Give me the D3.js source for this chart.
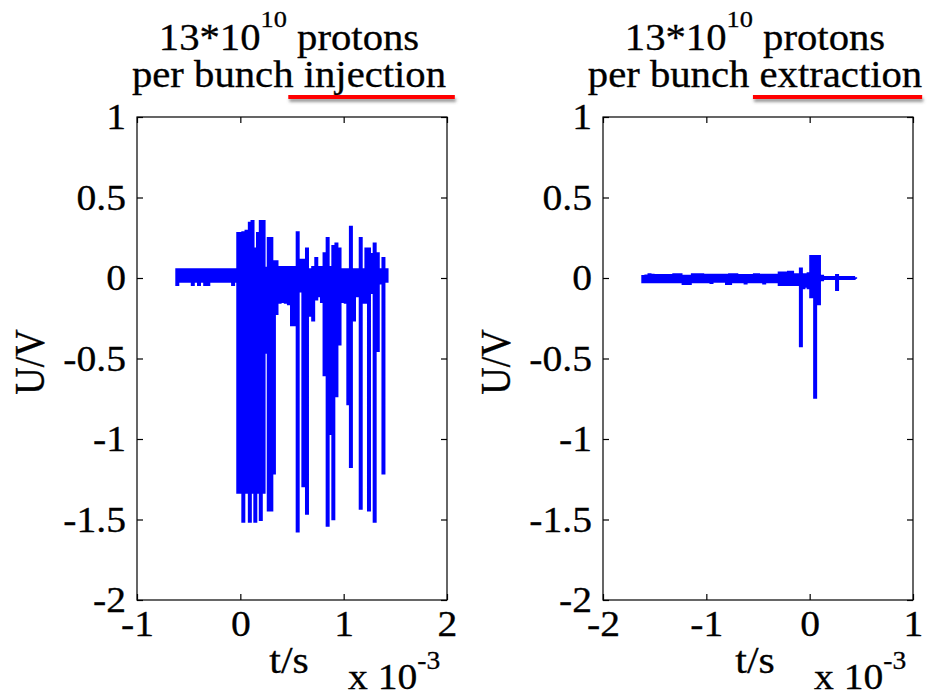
<!DOCTYPE html>
<html>
<head>
<meta charset="utf-8">
<script src="https://cdn.jsdelivr.net/npm/d3@7"></script>
<style>
  body { margin: 0; background: #fff; }
  svg text { font-family: "Liberation Serif", "Times New Roman", serif; fill: #000; white-space: pre; }
</style>
</head>
<body>
<svg id="chart"></svg>
<script>
// time in ms, voltage in V; each time bin holds the max / min of the trace

var injT = [-0.61, -0.58, -0.55, -0.52, -0.49, -0.46, -0.43, -0.40, -0.37, -0.34,
            -0.31, -0.28, -0.25, -0.22, -0.19, -0.16, -0.13, -0.10, -0.07, -0.04,
            -0.02, 0.00, 0.029, 0.06, 0.092, 0.118, 0.145, 0.171, 0.198, 0.225,
            0.25, 0.275, 0.30, 0.325, 0.35, 0.38, 0.41, 0.44, 0.47, 0.50,
            0.53, 0.555, 0.585, 0.61, 0.645, 0.675, 0.705, 0.735, 0.765, 0.79,
            0.815, 0.845, 0.87, 0.90, 0.93, 0.96, 0.99, 1.02, 1.045, 1.07,
            1.10, 1.13, 1.165, 1.195, 1.22, 1.245, 1.27, 1.30, 1.33, 1.355,
            1.385, 1.415];
var injHi = [0.06, 0.06, 0.06, 0.06, 0.06, 0.06, 0.06, 0.06, 0.06, 0.06,
             0.06, 0.06, 0.06, 0.06, 0.06, 0.06, 0.06, 0.06, 0.06, 0.06,
             0.285, 0.285, 0.29, 0.30, 0.35, 0.36, 0.19, 0.285, 0.36, 0.36,
             0.07, 0.255, 0.255, 0.11, 0.11, 0.075, 0.075, 0.075, 0.075, 0.075,
             0.075, 0.29, 0.12, 0.12, 0.19, 0.06, 0.075, 0.13, 0.075, 0.075,
             0.16, 0.255, 0.075, 0.205, 0.22, 0.19, 0.06, 0.06, 0.06, 0.325,
             0.06, 0.06, 0.255, 0.06, 0.19, 0.19, 0.155, 0.22, 0.16, 0.06,
             0.13, 0.06];
var injLo = [-0.05, -0.03, -0.03, -0.03, -0.03, -0.05, -0.03, -0.05, -0.03, -0.05,
             -0.05, -0.03, -0.03, -0.03, -0.03, -0.03, -0.03, -0.03, -0.05, -0.03,
             -1.34, -1.34, -1.52, -1.34, -1.52, -1.34, -1.52, -1.34, -1.51, -1.34,
             -0.47, -1.45, -1.45, -1.22, -0.23, -0.16, -0.155, -0.16, -0.17, -0.30,
             -0.30, -1.58, -0.09, -1.30, -1.47, -0.24, -0.27, -0.14, -0.12, -0.155,
             -0.61, -1.545, -0.975, -1.505, -0.74, -0.42, -0.155, -0.16, -0.79, -1.18,
             -0.27, -0.12, -1.44, -0.16, -0.16, -1.45, -0.10, -1.52, -0.46, -0.04,
             -1.22, -0.03];

var extT = [-1.61, -1.58, -1.55, -1.52, -1.49, -1.46, -1.43, -1.40, -1.37, -1.34,
            -1.31, -1.28, -1.25, -1.22, -1.19, -1.16, -1.13, -1.10, -1.07, -1.04,
            -1.01, -0.98, -0.95, -0.92, -0.89, -0.86, -0.83, -0.80, -0.77, -0.74,
            -0.71, -0.68, -0.65, -0.62, -0.59, -0.56, -0.53, -0.50, -0.47, -0.44,
            -0.41, -0.38, -0.35, -0.32, -0.29, -0.26, -0.23, -0.20, -0.17, -0.14,
            -0.11, -0.085, -0.06, -0.035, -0.01, 0.015, 0.035, 0.053, 0.075, 0.09,
            0.12, 0.15, 0.18, 0.21, 0.235, 0.265, 0.29, 0.33, 0.37, 0.41,
            0.44];
var extHi = [0.019, 0.022, 0.03, 0.027, 0.025, 0.025, 0.025, 0.025, 0.025, 0.025,
             0.03, 0.03, 0.03, 0.02, 0.02, 0.02, 0.03, 0.03, 0.03, 0.03,
             0.027, 0.027, 0.027, 0.027, 0.027, 0.027, 0.027, 0.027, 0.03, 0.03,
             0.03, 0.025, 0.025, 0.025, 0.025, 0.025, 0.03, 0.03, 0.027, 0.027,
             0.027, 0.027, 0.027, 0.027, 0.04, 0.04, 0.04, 0.045, 0.045, 0.03,
             0.03, 0.065, 0.03, 0.03, 0.035, 0.143, 0.143, 0.143, 0.143, 0.143,
             0.02, 0.004, 0.004, 0.004, 0.006, 0.025, 0.004, 0.004, 0.004, 0.004,
             0.004];
var extLo = [-0.033, -0.033, -0.033, -0.033, -0.033, -0.033, -0.033, -0.033, -0.033, -0.033,
             -0.033, -0.033, -0.033, -0.043, -0.043, -0.043, -0.033, -0.033, -0.033, -0.033,
             -0.033, -0.033, -0.038, -0.03, -0.03, -0.03, -0.03, -0.043, -0.043, -0.033,
             -0.033, -0.033, -0.033, -0.04, -0.033, -0.033, -0.033, -0.033, -0.033, -0.04,
             -0.033, -0.033, -0.033, -0.033, -0.05, -0.05, -0.05, -0.05, -0.05, -0.05,
             -0.05, -0.43, -0.07, -0.06, -0.07, -0.125, -0.125, -0.75, -0.17, -0.17,
             -0.02, -0.006, -0.006, -0.006, -0.008, -0.08, -0.006, -0.004, -0.004, -0.004,
             -0.004];

var yTicks = [-2, -1.5, -1, -0.5, 0, 0.5, 1];
var injXTicks = [-1, 0, 1, 2];
var extXTicks = [-2, -1, 0, 1];
var titleWords = ['injection', 'extraction'];

var svgWidth = 930, svgHeight = 695;
var plotTop = 117, plotBottom = 600;
var stretch = 1.1; // the reference text is a little wider than plain Times

var svg = d3.select('#chart')
    .attr('width', svgWidth)
    .attr('height', svgHeight);

var defs = svg.append('defs');
defs.append('filter').attr('id', 'shadow')
    .attr('x', '-10%').attr('y', '-100%').attr('width', '120%').attr('height', '400%')
  .append('feDropShadow')
    .attr('dx', 1).attr('dy', 3).attr('stdDeviation', 1.5)
    .attr('flood-color', '#555').attr('flood-opacity', 0.6);

var y = d3.scaleLinear().domain([-2, 1]).range([plotBottom, plotTop]);

function wideText(parent, x, yy, anchor, size) {
    return parent.append('g')
        .attr('transform', 'translate(' + x + ',' + yy + ') scale(' + stretch + ',1)')
      .append('text')
        .attr('text-anchor', anchor)
        .attr('font-size', size)
        .attr('stroke', '#000')
        .attr('stroke-width', 0.3);
}

function styleAxis(g, keepText) {
    g.select('.domain').remove();
    g.selectAll('line').attr('stroke', '#000').attr('stroke-width', 1.2);
    if (!keepText) { g.selectAll('text').remove(); return; }
    g.selectAll('text')
        .attr('font-family', '"Liberation Serif", "Times New Roman", serif')
        .attr('font-size', 36)
        .attr('fill', '#000')
        .attr('stroke', '#000')
        .attr('stroke-width', 0.3)
        .attr('transform', 'scale(' + stretch + ',1)');
}

function drawPanel(p) {
    var x = d3.scaleLinear().domain(p.xDomain).range([p.left, p.right]);
    var g = svg.append('g');
    var fmt = function(d) { return String(d); };

    // axes with inward ticks on all four sides
    g.append('g').attr('transform', 'translate(' + p.left + ',0)')
        .call(d3.axisLeft(y).tickValues(yTicks).tickSizeInner(-6).tickSizeOuter(0).tickPadding(10).tickFormat(fmt))
        .call(styleAxis, true);
    g.append('g').attr('transform', 'translate(' + p.right + ',0)')
        .call(d3.axisRight(y).tickValues(yTicks).tickSizeInner(-6).tickSizeOuter(0))
        .call(styleAxis, false);
    g.append('g').attr('transform', 'translate(0,' + plotBottom + ')')
        .call(d3.axisBottom(x).tickValues(p.xTicks).tickSizeInner(-6).tickSizeOuter(0).tickPadding(10).tickFormat(fmt))
        .call(styleAxis, true);
    g.append('g').attr('transform', 'translate(0,' + plotTop + ')')
        .call(d3.axisTop(x).tickValues(p.xTicks).tickSizeInner(-6).tickSizeOuter(0))
        .call(styleAxis, false);

    g.append('rect')
        .attr('x', p.left).attr('y', plotTop)
        .attr('width', p.right - p.left).attr('height', plotBottom - plotTop)
        .attr('fill', 'none').attr('stroke', '#000').attr('stroke-width', 1.2);

    // trace: every bin is a vertical max/min stroke, bins joined along zero
    var pts = [];
    p.t.forEach(function(t, i) {
        pts.push([t, 0], [t, p.hi[i]], [t, p.lo[i]], [t, 0]);
    });
    var line = d3.line()
        .x(function(d) { return x(d[0]); })
        .y(function(d) { return y(d[1]); });
    g.append('path')
        .attr('d', line(pts))
        .attr('fill', 'none')
        .attr('stroke', '#0000ff')
        .attr('stroke-width', 4)
        .attr('stroke-linejoin', 'bevel');

    // title
    var cx = (p.left + p.right) / 2 - 3;
    var t1 = wideText(svg, cx, 50, 'middle', 37);
    t1.append('tspan').text('13*10');
    t1.append('tspan').attr('dy', -23).attr('font-size', 24).text('10');
    t1.append('tspan').attr('dy', 23).text(' protons');

    var lead = 'per bunch ';
    var t2 = wideText(svg, cx, 87, 'middle', 37);
    t2.append('tspan').text(lead);
    t2.append('tspan').text(p.word);
    var node = t2.node();
    var first = node.getExtentOfChar(lead.length);
    var last = node.getExtentOfChar(lead.length + p.word.length - 1);
    // hand-drawn red underline, a bit loose around the word
    d3.select(node.parentNode).append('rect')
        .attr('x', first.x - p.linePre)
        .attr('y', 95 - 87)
        .attr('width', last.x + last.width - first.x + p.linePre + p.linePost)
        .attr('height', 4)
        .attr('fill', '#ff0000')
        .attr('filter', 'url(#shadow)');

    // axis labels
    svg.append('g')
        .attr('transform', 'translate(' + (p.left - 93) + ',' + 362 + ') scale(' + stretch + ',1) rotate(-90)')
      .append('text')
        .attr('text-anchor', 'middle')
        .attr('font-size', 38)
        .attr('stroke', '#000')
        .attr('stroke-width', 0.3)
        .text('U/V');

    wideText(svg, p.left + 152, 673, 'middle', 38).text('t/s');

    var xs = wideText(svg, p.left + 211, 689, 'start', 36);
    xs.append('tspan').text('x 10');
    xs.append('tspan').attr('dy', -20).attr('font-size', 25).text('-3');
}

drawPanel({ left: 137, right: 447, xDomain: [-1, 2], xTicks: injXTicks,
            t: injT, hi: injHi, lo: injLo, word: titleWords[0], linePre: 14, linePost: 8 });
drawPanel({ left: 603, right: 913, xDomain: [-2, 1], xTicks: extXTicks,
            t: extT, hi: extHi, lo: extLo, word: titleWords[1], linePre: 6, linePost: 0 });
</script>
</body>
</html>
